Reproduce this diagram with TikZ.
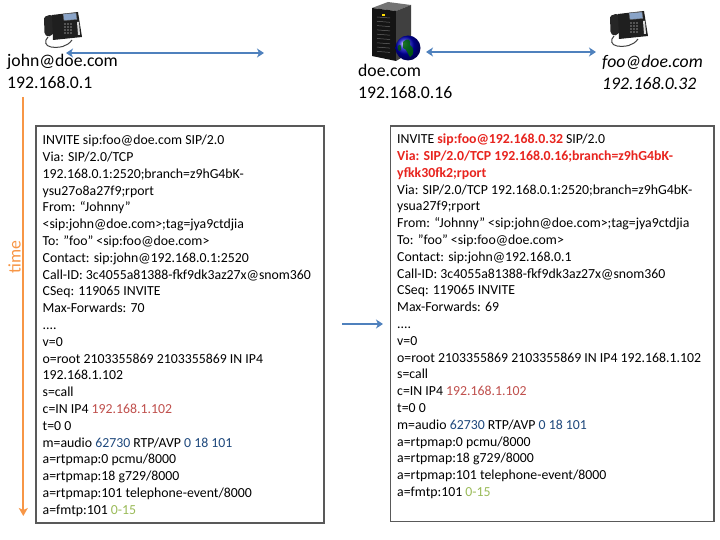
\documentclass[tikz,border=0pt]{standalone}
\usepackage{fontspec}
\setmainfont{Carlito}
\usetikzlibrary{arrows.meta}
\definecolor{arrowblue}{HTML}{4F81BD}
\definecolor{timeorange}{HTML}{F79646}
\definecolor{sipred}{RGB}{232,36,30}
\definecolor{sdpred}{HTML}{C0504D}
\definecolor{sdpblue}{HTML}{1F497D}
\definecolor{sdpgreen}{HTML}{9BBB59}
\definecolor{screenblue}{HTML}{8AA4C8}
\newcommand{\hlred}[1]{\textcolor{sipred}{\textbf{#1}}}
\newcommand{\ipred}[1]{\textcolor{sdpred}{#1}}
\newcommand{\numblue}[1]{\textcolor{sdpblue}{#1}}
\newcommand{\numgreen}[1]{\textcolor{sdpgreen}{#1}}
\tikzset{
  bluearrow/.style={draw=arrowblue, line width=2.2pt, {Stealth[length=7pt,width=9pt,inset=2pt]}-{Stealth[length=7pt,width=9pt,inset=2pt]}},
  fwdarrow/.style={draw=arrowblue, line width=2.2pt, -{Stealth[length=7pt,width=9pt,inset=2pt]}},
  timearrow/.style={draw=timeorange, line width=2pt, -{Stealth[length=8pt,width=9pt,inset=2pt]}},
  msgbox/.style={draw=black!65, line width=1.3pt, inner sep=0pt, fill=white},
  msgtext/.style={anchor=north west, inner sep=0pt, align=left, font=\fontsize{13.8}{16.8}\selectfont},
  headtext/.style={anchor=north west, inner sep=0pt, align=left, font=\fontsize{17.7}{22}\selectfont},
  deskphone/.pic={
    % handset
    \fill[black!85, rounded corners=1.5pt] (1,6) -- (8,3.5) -- (10.5,6) -- (10.5,23) -- (5,26) -- (1.5,23) -- cycle;
    % body
    \fill[black!88] (9,4) -- (35,1) -- (39,26) -- (10,29) -- cycle;
    % screen
    \fill[screenblue, draw=black!60, line width=0.4pt] (20,3) -- (33,2) -- (34,8.5) -- (21,9.5) -- cycle;
    % keypad
    \foreach \i in {0,1,2} \foreach \j in {0,1,2,3}
      \fill[black!45] (22+\i*3,13+\j*3) circle (0.8);
    % side buttons
    \fill[black!15] (34,11) -- (36,11) -- (37,24) -- (35,24) -- cycle;
    % cord
    \draw[black!75, line width=1pt] (5,26) .. controls (1,30) and (2,35) .. (8,36)
      .. controls (16,37) and (24,36) .. (29,29);
  }
}
\begin{document}
\begin{tikzpicture}[x=1pt,y=-1pt]
\useasboundingbox (0,0) rectangle (720,540);

% ---- icons ----
\pic (phoneL) at (43,11) {deskphone};
\pic (phoneR) at (609,10) {deskphone};

% server tower
\fill[black!55] (372,8) -- (388,2) -- (411,5) -- (396,11) -- cycle;
\fill[black!92] (372,8) -- (396,11) -- (396,61) -- (372,56) -- cycle;
\fill[black!75] (396,11) -- (411,5) -- (411,52) -- (396,61) -- cycle;
\foreach \k in {0,...,8}
  \draw[black!60, line width=0.5pt] (377,17+\k*4.3) -- (390,18+\k*4.3);
\fill[yellow!80!orange] (382,14.5) rectangle (385,16);
\shade[ball color=blue!75!black] (408,48) circle (12.5);
\fill[green!40!black, opacity=0.85] (403,42) .. controls (407,37) and (412,40) .. (410,45)
  .. controls (414,47) and (415,55) .. (410,57) .. controls (407,53) and (407,49) .. (403,48) -- cycle;
\fill[green!35!black, opacity=0.8] (398,46) .. controls (400,43) and (402,46) .. (401,50)
  .. controls (399,52) and (397,50) .. cycle;

% ---- header texts ----
\node[headtext] (john) at (7,50.6) {\strut john@doe.com\\192.168.0.1};
\node[headtext] (proxy) at (358,60.6) {\strut doe.com\\192.168.0.16};
\node[headtext, font=\fontsize{17.7}{22}\selectfont\itshape] (foo) at (602,51.6) {\strut foo@doe.com\\192.168.0.32};

% ---- top arrows ----
\coordinate (a1s) at (66,53);
\coordinate (a1e) at (264,53);
\coordinate (a2s) at (426,52);
\coordinate (a2e) at (596,52);
\draw[bluearrow] (a1s) -- (a1e);
\draw[bluearrow] (a2s) -- (a2e);

% ---- time axis ----
\coordinate (t0) at (23.3,97);
\coordinate (t1) at (23.3,516);
\draw[timearrow] (t0) -- (t1);
\node[rotate=90, text=timeorange, font=\fontsize{17.7}{22}\selectfont] (timelbl) at (14.5,257) {time};

% ---- message boxes ----
\node[msgbox, minimum width=288pt, minimum height=397pt] (lbox) at (180,324.5) {};
\node[msgbox, minimum width=323.3pt, minimum height=395.7pt] (rbox) at (552.35,323.85) {};

\node[msgtext] (ltext) at (42.5,132.7) {\strut INVITE sip:foo@doe.com SIP/2.0\\
Via: SIP/2.0/TCP\\
192.168.0.1:2520;branch=z9hG4bK-\\
ysu27o8a27f9;rport\\
From: “Johnny”\\
<sip:john@doe.com>;tag=jya9ctdjia\\
To: ”foo" <sip:foo@doe.com>\\
Contact: sip:john@192.168.0.1:2520\\
Call-ID: 3c4055a81388-fkf9dk3az27x@snom360\\
CSeq: 119065 INVITE\\
Max-Forwards: 70\\
....\\
v=0\\
o=root 2103355869 2103355869 IN IP4\\
192.168.1.102\\
s=call\\
c=IN IP4 \ipred{192.168.1.102}\\
t=0 0\\
m=audio \numblue{62730} RTP/AVP \numblue{0 18 101}\\
a=rtpmap:0 pcmu/8000\\
a=rtpmap:18 g729/8000\\
a=rtpmap:101 telephone-event/8000\\
a=fmtp:101 \numgreen{0-15}};

\node[msgtext] (rtext) at (397,131.7) {\strut INVITE \hlred{sip:foo@192.168.0.32} SIP/2.0\\
\hlred{Via: SIP/2.0/TCP 192.168.0.16;branch=z9hG4bK-}\\
\hlred{yfkk30fk2;rport}\\
Via: SIP/2.0/TCP 192.168.0.1:2520;branch=z9hG4bK-\\
ysua27f9;rport\\
From: “Johnny” <sip:john@doe.com>;tag=jya9ctdjia\\
To: ”foo" <sip:foo@doe.com>\\
Contact: sip:john@192.168.0.1\\
Call-ID: 3c4055a81388-fkf9dk3az27x@snom360\\
CSeq: 119065 INVITE\\
Max-Forwards: 69\\
....\\
v=0\\
o=root 2103355869 2103355869 IN IP4 192.168.1.102\\
s=call\\
c=IN IP4 \ipred{192.168.1.102}\\
t=0 0\\
m=audio \numblue{62730} RTP/AVP \numblue{0 18 101}\\
a=rtpmap:0 pcmu/8000\\
a=rtpmap:18 g729/8000\\
a=rtpmap:101 telephone-event/8000\\
a=fmtp:101 \numgreen{0-15}};

% ---- forward arrow ----
\coordinate (m0) at (342,324);
\coordinate (m1) at (383,324);
\draw[fwdarrow] (m0) -- (m1);
\end{tikzpicture}
\end{document}
